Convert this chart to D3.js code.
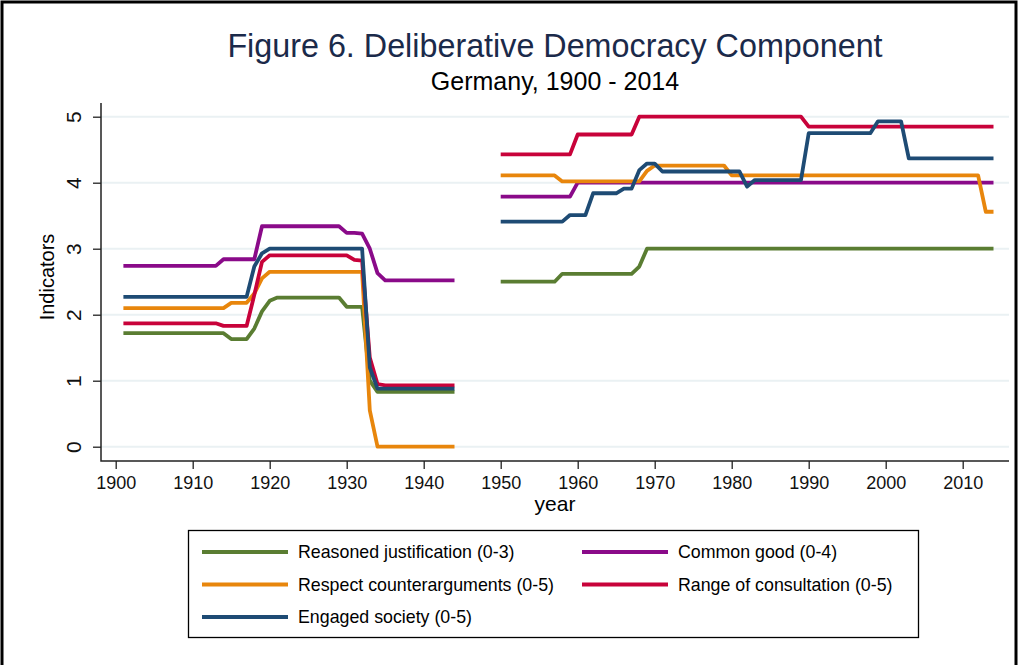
<!DOCTYPE html>
<html>
<head>
<meta charset="utf-8">
<script src="https://cdn.jsdelivr.net/npm/d3@7"></script>
<style>
  body { margin: 0; background: #fff; }
  svg { display: block; font-family: "Liberation Sans", Arial, sans-serif; }
</style>
</head>
<body>
<script>
// years 1901-2014, null = no data (1945-1949)
var years = d3.range(1901, 2015);
var xTicks = [1900, 1910, 1920, 1930, 1940, 1950, 1960, 1970, 1980, 1990, 2000, 2010];
var yTicks = [0, 1, 2, 3, 4, 5];

var reasoned = [
  1.72,1.72,1.72,1.72,1.72,1.72,1.72,1.72,1.72,1.72,
  1.72,1.72,1.72,1.72,1.63,1.63,1.63,1.79,2.05,2.21,
  2.26,2.26,2.26,2.26,2.26,2.26,2.26,2.26,2.26,2.12,
  2.12,2.12,1.00,0.83,0.83,0.83,0.83,0.83,0.83,0.83,
  0.83,0.83,0.83,0.83,null,null,null,null,null,2.50,
  2.50,2.50,2.50,2.50,2.50,2.50,2.50,2.62,2.62,2.62,
  2.62,2.62,2.62,2.62,2.62,2.62,2.62,2.73,3.00,3.00,
  3.00,3.00,3.00,3.00,3.00,3.00,3.00,3.00,3.00,3.00,
  3.00,3.00,3.00,3.00,3.00,3.00,3.00,3.00,3.00,3.00,
  3.00,3.00,3.00,3.00,3.00,3.00,3.00,3.00,3.00,3.00,
  3.00,3.00,3.00,3.00,3.00,3.00,3.00,3.00,3.00,3.00,
  3.00,3.00,3.00,3.00
];
var commonGood = [
  2.74,2.74,2.74,2.74,2.74,2.74,2.74,2.74,2.74,2.74,
  2.74,2.74,2.74,2.84,2.84,2.84,2.84,2.84,3.34,3.34,
  3.34,3.34,3.34,3.34,3.34,3.34,3.34,3.34,3.34,3.24,
  3.24,3.23,3.00,2.63,2.52,2.52,2.52,2.52,2.52,2.52,
  2.52,2.52,2.52,2.52,null,null,null,null,null,3.79,
  3.79,3.79,3.79,3.79,3.79,3.79,3.79,3.79,3.79,4.00,
  4.00,4.00,4.00,4.00,4.00,4.00,4.00,4.00,4.00,4.00,
  4.00,4.00,4.00,4.00,4.00,4.00,4.00,4.00,4.00,4.00,
  4.00,4.00,4.00,4.00,4.00,4.00,4.00,4.00,4.00,4.00,
  4.00,4.00,4.00,4.00,4.00,4.00,4.00,4.00,4.00,4.00,
  4.00,4.00,4.00,4.00,4.00,4.00,4.00,4.00,4.00,4.00,
  4.00,4.00,4.00,4.00
];
var respect = [
  2.10,2.10,2.10,2.10,2.10,2.10,2.10,2.10,2.10,2.10,
  2.10,2.10,2.10,2.10,2.18,2.18,2.18,2.32,2.55,2.65,
  2.65,2.65,2.65,2.65,2.65,2.65,2.65,2.65,2.65,2.65,
  2.65,2.65,0.55,0.00,0.00,0.00,0.00,0.00,0.00,0.00,
  0.00,0.00,0.00,0.00,null,null,null,null,null,4.11,
  4.11,4.11,4.11,4.11,4.11,4.11,4.11,4.02,4.02,4.02,
  4.02,4.02,4.02,4.02,4.02,4.02,4.02,4.02,4.18,4.26,
  4.26,4.26,4.26,4.26,4.26,4.26,4.26,4.26,4.26,4.11,
  4.11,4.11,4.11,4.11,4.11,4.11,4.11,4.11,4.11,4.11,
  4.11,4.11,4.11,4.11,4.11,4.11,4.11,4.11,4.11,4.11,
  4.11,4.11,4.11,4.11,4.11,4.11,4.11,4.11,4.11,4.11,
  4.11,4.11,3.56,3.56
];
var consultation = [
  1.87,1.87,1.87,1.87,1.87,1.87,1.87,1.87,1.87,1.87,
  1.87,1.87,1.87,1.83,1.83,1.83,1.83,2.30,2.80,2.90,
  2.90,2.90,2.90,2.90,2.90,2.90,2.90,2.90,2.90,2.90,
  2.83,2.82,1.35,0.95,0.93,0.93,0.93,0.93,0.93,0.93,
  0.93,0.93,0.93,0.93,null,null,null,null,null,4.43,
  4.43,4.43,4.43,4.43,4.43,4.43,4.43,4.43,4.43,4.73,
  4.73,4.73,4.73,4.73,4.73,4.73,4.73,5.00,5.00,5.00,
  5.00,5.00,5.00,5.00,5.00,5.00,5.00,5.00,5.00,5.00,
  5.00,5.00,5.00,5.00,5.00,5.00,5.00,5.00,5.00,4.85,
  4.85,4.85,4.85,4.85,4.85,4.85,4.85,4.85,4.85,4.85,
  4.85,4.85,4.85,4.85,4.85,4.85,4.85,4.85,4.85,4.85,
  4.85,4.85,4.85,4.85
];
var engaged = [
  2.27,2.27,2.27,2.27,2.27,2.27,2.27,2.27,2.27,2.27,
  2.27,2.27,2.27,2.27,2.27,2.27,2.27,2.73,2.93,3.00,
  3.00,3.00,3.00,3.00,3.00,3.00,3.00,3.00,3.00,3.00,
  3.00,3.00,1.20,0.88,0.88,0.88,0.88,0.88,0.88,0.88,
  0.88,0.88,0.88,0.88,null,null,null,null,null,3.41,
  3.41,3.41,3.41,3.41,3.41,3.41,3.41,3.41,3.51,3.51,
  3.51,3.84,3.84,3.84,3.84,3.91,3.91,4.19,4.29,4.29,
  4.17,4.17,4.17,4.17,4.17,4.17,4.17,4.17,4.17,4.17,
  4.17,3.94,4.04,4.04,4.04,4.04,4.04,4.04,4.04,4.75,
  4.75,4.75,4.75,4.75,4.75,4.75,4.75,4.75,4.93,4.93,
  4.93,4.93,4.37,4.37,4.37,4.37,4.37,4.37,4.37,4.37,
  4.37,4.37,4.37,4.37
];

// draw order follows the legend order
var seriesNames = ["Reasoned justification (0-3)", "Common good (0-4)", "Respect counterarguments (0-5)",
                   "Range of consultation (0-5)", "Engaged society (0-5)"];
var seriesValues = [reasoned, commonGood, respect, consultation, engaged];
var seriesColors = ["#5a7d32", "#8a0a89", "#e8860c", "#c8023a", "#1e4b74"];

var width = 1019, height = 665;
var plot = { left: 101, right: 1009, top: 103, bottom: 461 };

var svg = d3.select("body").append("svg")
    .attr("width", width)
    .attr("height", height);

// outer frame
svg.append("rect")
    .attr("x", 2).attr("y", 2)
    .attr("width", 1014).attr("height", 700)
    .attr("fill", "none")
    .attr("stroke", "#000")
    .attr("stroke-width", 3);

var x = d3.scaleLinear().domain([1900, 2010]).range([115.7, 962.7]);
var y = d3.scaleLinear().domain([0, 5]).range([446.7, 116.7]);

// gridlines
svg.append("g").selectAll("line")
    .data(yTicks)
    .enter().append("line")
    .attr("x1", plot.left).attr("x2", plot.right)
    .attr("y1", function(d) { return y(d); })
    .attr("y2", function(d) { return y(d); })
    .attr("stroke", "#eaf1f3")
    .attr("stroke-width", 2);

// axes
var xAxis = svg.append("g")
    .attr("transform", "translate(0," + plot.bottom + ")")
    .call(d3.axisBottom(x).tickValues(xTicks).tickFormat(d3.format("d")).tickSize(8).tickSizeOuter(0).tickPadding(7));
var yAxis = svg.append("g")
    .attr("transform", "translate(" + plot.left + ",0)")
    .call(d3.axisLeft(y).tickValues(yTicks).tickSize(8).tickSizeOuter(0));

xAxis.select(".domain").remove();
yAxis.select(".domain").remove();
xAxis.selectAll("line").attr("stroke", "#222").attr("stroke-width", 1.3);
yAxis.selectAll("line").attr("stroke", "#222").attr("stroke-width", 1.3);
xAxis.selectAll("text")
    .style("font-size", "18px")
    .style("fill", "#111")
    .attr("dy", "0.71em");

yAxis.selectAll("text").remove();
yAxis.selectAll(".tick").append("text")
    .attr("transform", "translate(-20,0) rotate(-90)")
    .attr("text-anchor", "middle")
    .style("font-size", "21px")
    .style("fill", "#111")
    .text(function(d) { return d; });

svg.append("path")
    .attr("d", "M" + plot.left + "," + plot.top + "V" + plot.bottom + "H" + plot.right)
    .attr("fill", "none")
    .attr("stroke", "#222")
    .attr("stroke-width", 1.5);

// axis titles
svg.append("text")
    .attr("transform", "translate(54," + 277 + ") rotate(-90)")
    .attr("text-anchor", "middle")
    .style("font-size", "20px")
    .text("Indicators");

svg.append("text")
    .attr("x", 555).attr("y", 511)
    .attr("text-anchor", "middle")
    .style("font-size", "21px")
    .text("year");

// titles
svg.append("text")
    .attr("x", 555).attr("y", 57)
    .attr("text-anchor", "middle")
    .style("font-size", "32.3px")
    .style("fill", "#1b2a4a")
    .text("Figure 6. Deliberative Democracy Component");

svg.append("text")
    .attr("x", 555).attr("y", 90)
    .attr("text-anchor", "middle")
    .style("font-size", "25px")
    .text("Germany, 1900 - 2014");

// lines
var line = d3.line()
    .defined(function(d) { return d.v !== null; })
    .x(function(d) { return x(d.year); })
    .y(function(d) { return y(d.v); });

svg.append("g").selectAll("path")
    .data(seriesValues)
    .enter().append("path")
    .attr("d", function(vals) {
        return line(years.map(function(yr, i) { return { year: yr, v: vals[i] }; }));
    })
    .attr("fill", "none")
    .attr("stroke", function(d, i) { return seriesColors[i]; })
    .attr("stroke-width", 3.8)
    .attr("stroke-linejoin", "round");

// legend
var legendBox = svg.append("g");
legendBox.append("rect")
    .attr("x", 188.5).attr("y", 530.5)
    .attr("width", 730).attr("height", 107)
    .attr("fill", "#fff")
    .attr("stroke", "#000")
    .attr("stroke-width", 1.3);

var legend = legendBox.selectAll("g.item")
    .data(seriesNames)
    .enter().append("g")
    .attr("class", "item")
    .attr("transform", function(d, i) {
        return "translate(" + (i % 2 === 0 ? 202 : 582) + "," + (552 + Math.floor(i / 2) * 32.5) + ")";
    });

legend.append("line")
    .attr("x1", 0).attr("x2", 86)
    .attr("stroke", function(d, i) { return seriesColors[i]; })
    .attr("stroke-width", 3.8);

legend.append("text")
    .attr("x", 96)
    .attr("dy", "0.35em")
    .style("font-size", "17.8px")
    .text(function(d) { return d; });
</script>
</body>
</html>
